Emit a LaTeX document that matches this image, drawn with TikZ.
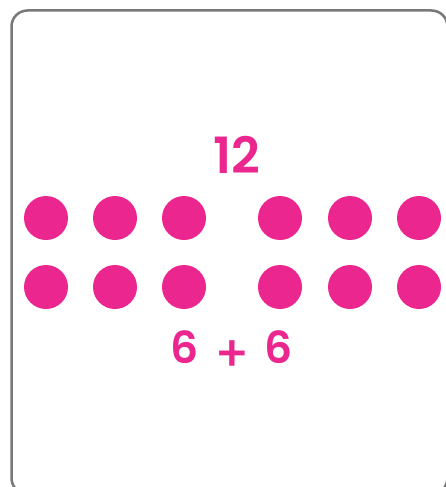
\documentclass[tikz,border=0pt]{standalone}
\usepackage{fontspec}
\newfontfamily\pop{Poppins SemiBold}
\newfontfamily\popm{Poppins Medium}
\definecolor{dotpink}{RGB}{236,38,143}
\definecolor{framegray}{RGB}{120,120,120}
\tikzset{
  dot/.style={circle,fill=dotpink,draw=none,minimum size=44pt,inner sep=0pt},
  numlabel/.style={text=dotpink,inner sep=0pt,anchor=center},
}
\begin{document}
\begin{tikzpicture}[x=1pt,y=-1pt]
\useasboundingbox (0,0) rectangle (446,487);
\clip (0,0) rectangle (446,487);
\fill[white] (0,0) rectangle (446,487);
\draw[framegray,line width=2.5pt,rounded corners=16pt] (11.5,10.5) rectangle (447.5,494);
\node[numlabel,font=\pop\fontsize{50}{50}\selectfont] (total) at (237,155) {12};
\foreach \i/\x in {1/46,2/115,3/184,4/280,5/350,6/419}{
  \node[dot] (a\i) at (\x,218) {};
  \node[dot] (b\i) at (\x,287) {};
}
\node[numlabel,font=\pop\fontsize{44}{44}\selectfont,anchor=base] (sum) at (232,363) {6\hspace{15pt}\raisebox{-8pt}{\popm\fontsize{50}{50}\selectfont+}\hspace{15pt}6};
\end{tikzpicture}
\end{document}
